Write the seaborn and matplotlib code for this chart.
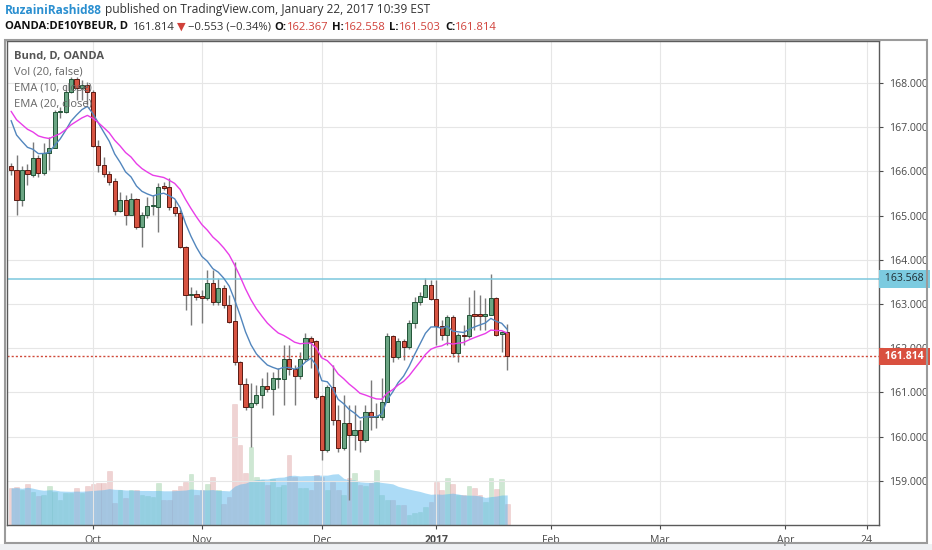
import numpy as np
import pandas as pd
import seaborn as sns
import matplotlib.pyplot as plt
import matplotlib.transforms as mtransforms
from matplotlib.patches import Rectangle

# daily OHLC, Bund (OANDA:DE10YBEUR)
opens = [166.12, 166.03, 165.35, 166.03, 165.92, 166.30, 165.96, 166.42, 166.53, 167.34,
         167.34, 167.80, 168.09, 167.89, 167.95, 167.80, 166.58, 166.15, 165.94, 165.78,
         165.10, 165.35, 165.01, 165.37, 164.74, 165.01, 165.22, 165.20, 165.67, 165.65,
         165.20, 165.06, 164.29, 163.21, 163.23, 163.18, 163.14, 163.48, 163.05, 163.36,
         162.98, 162.62, 161.69, 161.19, 160.67, 160.76, 160.94, 161.15, 161.08, 161.31,
         161.31, 161.76, 161.53, 161.37, 161.76, 162.23, 162.17, 160.92, 159.70, 161.13,
         160.38, 159.75, 160.31, 160.04, 160.15, 159.93, 160.56, 160.45, 160.45, 160.79,
         162.28, 161.80, 162.17, 162.03, 162.57, 163.05, 163.16, 163.43, 163.12, 162.50,
         162.30, 162.71, 161.89, 162.30, 162.28, 162.77, 162.77, 162.73, 162.75, 163.14,
         162.33, 162.367]
highs = [166.19, 166.37, 166.12, 166.17, 166.67, 166.37, 166.64, 166.78, 167.39, 167.46,
         167.95, 168.14, 168.14, 168.07, 168.02, 167.85, 166.71, 166.33, 166.00, 165.85,
         165.54, 165.47, 165.51, 165.40, 165.08, 165.42, 165.47, 165.74, 165.76, 165.85,
         165.35, 165.13, 164.32, 163.39, 163.32, 163.32, 163.77, 163.77, 163.59, 163.43,
         163.21, 163.95, 161.72, 161.33, 161.22, 161.17, 161.33, 161.46, 161.46, 161.55,
         162.08, 162.08, 161.62, 161.92, 162.35, 162.28, 162.19, 160.95, 161.17, 161.62,
         160.72, 160.94, 160.72, 160.72, 160.38, 160.72, 161.28, 160.76, 161.33, 162.35,
         162.30, 162.22, 162.20, 162.64, 163.16, 163.27, 163.59, 163.55, 163.55, 162.64,
         162.75, 162.74, 162.35, 162.53, 163.16, 163.32, 163.21, 163.14, 163.68, 163.16,
         162.40, 162.558]
lows = [165.92, 165.01, 165.22, 165.69, 165.87, 165.87, 165.92, 166.03, 166.53, 167.21,
        167.32, 167.77, 167.62, 167.62, 167.50, 166.55, 165.99, 165.87, 165.69, 165.01,
        165.08, 164.79, 165.01, 164.70, 164.29, 164.95, 165.01, 164.63, 165.58, 165.13,
        164.99, 164.27, 162.87, 162.53, 163.10, 162.57, 163.10, 162.98, 162.98, 162.91,
        162.57, 161.62, 160.83, 160.61, 159.77, 160.72, 160.65, 161.01, 160.49, 161.10,
        160.72, 161.40, 160.72, 161.30, 161.70, 161.55, 160.85, 159.47, 159.65, 160.27,
        159.66, 159.70, 158.57, 159.70, 159.66, 159.88, 160.15, 160.20, 160.38, 160.79,
        161.69, 161.75, 161.74, 161.98, 162.46, 162.98, 163.16, 163.10, 162.08, 162.19,
        162.08, 161.80, 161.69, 162.08, 162.23, 162.42, 162.42, 162.42, 162.75, 162.28,
        161.92, 161.503]
closes = [166.03, 165.35, 166.03, 165.94, 166.30, 165.96, 166.42, 166.53, 167.34, 167.36,
          167.80, 168.09, 167.89, 167.95, 167.80, 166.58, 166.15, 165.94, 165.76, 165.10,
          165.35, 165.01, 165.37, 164.74, 165.01, 165.22, 165.24, 165.65, 165.62, 165.20,
          165.06, 164.29, 163.21, 163.22, 163.16, 163.14, 163.48, 163.05, 163.36, 162.98,
          162.60, 161.69, 161.19, 160.67, 160.76, 160.94, 161.15, 161.08, 161.33, 161.33,
          161.76, 161.53, 161.37, 161.76, 162.23, 162.14, 160.90, 159.70, 161.13, 160.38,
          159.75, 160.31, 160.04, 160.15, 159.93, 160.56, 160.45, 160.47, 160.79, 162.28,
          161.80, 162.17, 162.03, 162.57, 163.05, 163.18, 163.43, 163.12, 162.50, 162.30,
          162.71, 161.89, 162.30, 162.28, 162.75, 162.73, 162.73, 162.77, 163.14, 162.30,
          162.37, 161.814]
volumes = [37, 38, 35, 41, 33, 29, 30, 39, 33, 25, 32, 32, 37, 32, 39, 41, 42, 42, 54, 22,
           35, 27, 35, 35, 30, 29, 28, 42, 25, 25, 35, 39, 43, 51, 30, 35, 41, 48, 35, 21,
           28, 121, 80, 52, 78, 48, 45, 40, 46, 38, 40, 70, 48, 37, 37, 35, 50, 48, 35, 43,
           35, 30, 47, 52, 40, 39, 42, 55, 30, 25, 25, 20, 20, 10, 12, 13, 18, 23, 43, 35,
           47, 41, 30, 30, 39, 37, 30, 23, 47, 36, 46, 21]

# EMA values just before the first visible bar
ema10_seed = 167.40
ema20_seed = 167.50

month_ticks = [15, 35, 57, 78, 99, 119, 142, 157]
month_labels = ["Oct", "Nov", "Dec", "2017", "Feb", "Mar", "Apr", "24"]
price_ticks = [159, 160, 161, 162, 163, 164, 165, 166, 167, 168]
level_price = 163.568
last_price = 161.814

sns.set_theme(style="white")
plt.rcParams["font.family"] = ["Open Sans", "DejaVu Sans"]

df = pd.DataFrame({"open": opens, "high": highs, "low": lows,
                   "close": closes, "volume": volumes})
df["i"] = np.arange(len(df))
df["up"] = df["close"] >= df["open"]
df["ema10"] = pd.Series([ema10_seed] + closes).ewm(span=10, adjust=False).mean().iloc[1:].values
df["ema20"] = pd.Series([ema20_seed] + closes).ewm(span=20, adjust=False).mean().iloc[1:].values
df["vol_ma"] = df["volume"].rolling(20, min_periods=1).mean()

W, H = 932, 550
fig = plt.figure(figsize=(W / 100, H / 100), dpi=100)
fig.patch.set_facecolor("white")


def fx(x):
    return x / W


def fy(y):
    return 1 - y / H


rect = [fx(7), fy(525), fx(879) - fx(7), fy(41) - fy(525)]
ax_v = fig.add_axes(rect)
ax = fig.add_axes(rect, sharex=ax_v)
ax_v.set_zorder(0)
ax.set_zorder(1)
ax.patch.set_visible(False)

# volume + its 20 MA (drawn behind the price pane)
vol_colors = np.where(df["up"], "#9fd0a8", "#e0a8a8")
ax_v.bar(df["i"], df["volume"], width=0.85, color=vol_colors, alpha=0.5,
         edgecolor=vol_colors, linewidth=0.4)
ax_v.fill_between(df["i"], 0, df["vol_ma"], color="#5bb8ee", alpha=0.5, lw=0)
ax_v.set_ylim(0, 484)
ax_v.set_yticks([])
ax_v.tick_params(axis="x", bottom=False, labelbottom=False)
for s in ax_v.spines.values():
    s.set_visible(False)

# grid
ax.set_axisbelow(True)
ax.grid(True, color="#e6e6e6", lw=0.8)

# candles
ax.vlines(df["i"], df["low"], df["high"], color="#7a7a7a", lw=1, zorder=2)
body = (df["close"] - df["open"]).where((df["close"] - df["open"]).abs() > 0.015, 0.015)
body_fc = np.where(df["up"], "#6ba583", "#d75442")
body_ec = np.where(df["up"], "#225437", "#5b1a13")
ax.bar(df["i"], body, bottom=df["open"], width=0.76, color=body_fc,
       edgecolor=body_ec, linewidth=0.7, zorder=3)

# EMAs
sns.lineplot(data=df, x="i", y="ema10", ax=ax, color="#5286bd", lw=1, zorder=4)
sns.lineplot(data=df, x="i", y="ema20", ax=ax, color="#e83de8", lw=1, zorder=4)

ax.axhline(level_price, color="#7cc8de", lw=1.1, zorder=2)
ax.axhline(last_price, color="#d04a3a", lw=1, ls=(0, (1.5, 1.5)), zorder=2)

ax.set_xlim(-0.75, 159.2)
ax.set_ylim(158.0, 168.95)
ax.set_xlabel("")
ax.set_ylabel("")

ax.yaxis.tick_right()
ax.set_yticks(price_ticks)
ax.set_yticklabels([f"{v:.3f}" for v in price_ticks])
ax.set_xticks(month_ticks)
ax.set_xticklabels(month_labels)
for lab in ax.get_xticklabels():
    if lab.get_text() == "2017":
        lab.set_fontweight("bold")
ax.tick_params(axis="both", colors="#4a4a4a", labelsize=7.6, length=3,
               width=0.8, direction="out")
ax.tick_params(axis="x", pad=4)
ax.tick_params(axis="y", pad=4)
ax.tick_params(axis="y", right=True, left=False)
ax.tick_params(axis="x", bottom=True)
for s in ax.spines.values():
    s.set_color("#5a5a5a")
    s.set_linewidth(1)

# price tags on the right scale (the red one hides part of 162.000, as in the source)
tr = mtransforms.blended_transform_factory(ax.transAxes, ax.transData)
ax.text(1.004, level_price, " 163.568 ", transform=tr, ha="left", va="center",
        fontsize=7.6, color="#1f2d33", clip_on=False, zorder=10,
        bbox=dict(boxstyle="square,pad=0.3", fc="#7ccbe0", ec="none"))
ax.text(1.004, last_price, " 161.814 ", transform=tr, ha="left", va="center",
        fontsize=7.6, color="white", fontweight="bold", clip_on=False, zorder=10,
        bbox=dict(boxstyle="square,pad=0.3", fc="#d9503f", ec="none"))

# pane legend
fig.text(fx(14), fy(56), "Bund, D, OANDA", fontsize=8, fontweight="bold",
         color="#555555", va="center", zorder=10)
for k, t in enumerate(["Vol (20, false)", "EMA (10, close)", "EMA (20, close)"]):
    fig.text(fx(14), fy(72 + 16 * k), t, fontsize=8, color="#666666",
             va="center", zorder=10)

# header lines
renderer = fig.canvas.get_renderer()


def run_text(x, y, pieces, size=8.6):
    for s, color, weight, gap in pieces:
        t = fig.text(fx(x), fy(y), s, color=color, fontsize=size,
                     fontweight=weight, va="center", ha="left")
        x += t.get_window_extent(renderer).width + gap


run_text(5, 10, [("RuzainiRashid88", "#2a8fd0", "bold", 3),
                 ("published on TradingView.com, January 22, 2017 10:39 EST", "#333333", "normal", 0)])
red = "#d0413a"
run_text(5, 27, [("OANDA:DE10YBEUR, D", "#111111", "bold", 5),
                 ("161.814", "#333333", "normal", 2),
                 ("\u25bc", red, "normal", 2),
                 ("\u22120.553 (\u22120.34%)", "#333333", "normal", 4),
                 ("O:", "#111111", "bold", 0),
                 ("162.367", red, "normal", 4),
                 ("H:", "#111111", "bold", 0),
                 ("162.558", red, "normal", 4),
                 ("L:", "#111111", "bold", 0),
                 ("161.503", red, "normal", 4),
                 ("C:", "#111111", "bold", 0),
                 ("161.814", red, "normal", 0)], size=8.1)

# outer frame and bottom strip
fig.patches.append(Rectangle((0, 0), 1, fy(544), transform=fig.transFigure,
                             fc="#eef0f3", ec="none", zorder=0))
fig.patches.append(Rectangle((fx(5), fy(543)), fx(927) - fx(5), fy(40) - fy(543),
                             transform=fig.transFigure, fill=False,
                             ec="#9b9b9b", lw=1.5, zorder=1))

fig.savefig("out.png", dpi=100, facecolor="white")
